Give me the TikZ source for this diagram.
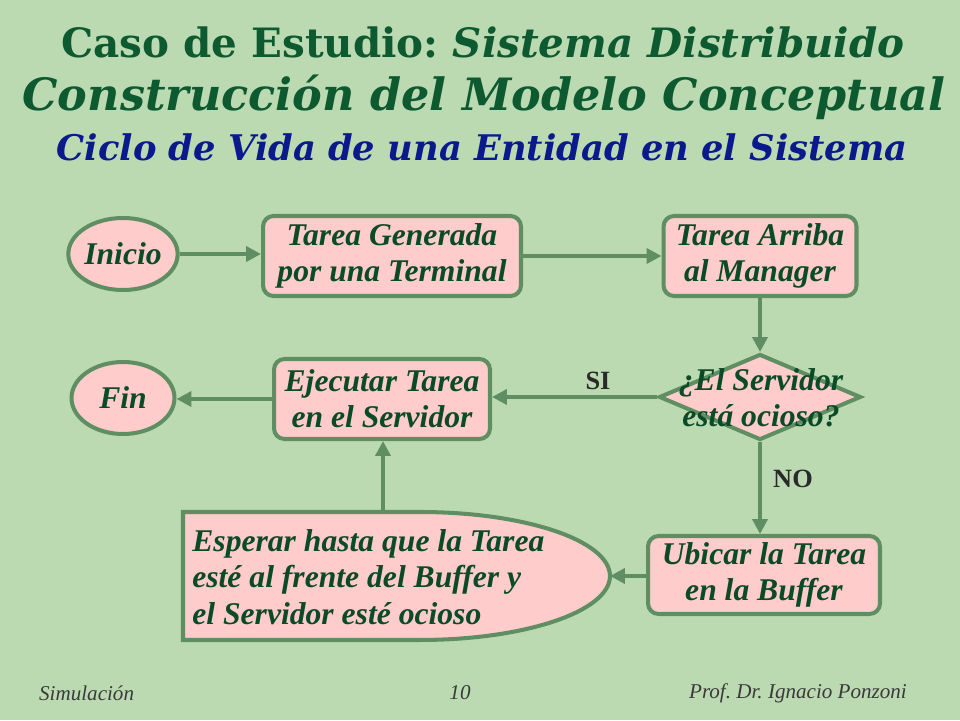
\documentclass[tikz,border=0pt]{standalone}
\usepackage{fontspec}
\setmainfont{Liberation Serif}
\newfontfamily\titlefont{DejaVu Serif}
\usetikzlibrary{shapes.geometric,arrows.meta}
\definecolor{bg}{HTML}{BCDAB2}
\definecolor{boxfill}{HTML}{FFCCCC}
\definecolor{edgec}{HTML}{5E8E62}
\definecolor{txt}{HTML}{0B4A26}
\definecolor{ttlgreen}{HTML}{0E5A30}
\definecolor{ttlblue}{HTML}{0A1A8C}
\definecolor{lbl}{HTML}{2A2A2A}
\definecolor{foot}{HTML}{3A3A3A}
\frenchspacing
\begin{document}
\begin{tikzpicture}[x=0.02cm,y=-0.02cm,
  boxtext/.style={font=\fontsize{18}{20.6}\selectfont\bfseries\itshape, text=txt},
  stepbox/.style={boxtext, draw=edgec, line width=2.3pt, fill=boxfill, rounded corners=6pt, align=center, inner sep=0pt},
  termbox/.style={boxtext, draw=edgec, line width=2.3pt, fill=boxfill, ellipse, inner sep=0pt, minimum width=2.06cm, minimum height=1.44cm},
  arr/.style={draw=edgec, line width=2.3pt, -{Triangle[length=8.5pt,width=8.5pt]}},
  lbltext/.style={font=\fontsize{15}{18}\selectfont\bfseries, text=lbl},
  foottext/.style={font=\fontsize{12}{14}\selectfont\itshape, text=foot},
  ttl/.style={font=\titlefont\bfseries, inner sep=0pt, anchor=base}
  ]
  \fill[bg] (0,0) rectangle (960,720);
  \useasboundingbox (0,0) rectangle (960,720);

  % titles
  \node[ttl, text=ttlgreen] (t1) at (483,57) {\resizebox{16.86cm}{!}{Caso de Estudio: \itshape Sistema Distribuido}};
  \node[ttl, text=ttlgreen] (t2) at (484,110) {\resizebox{18.46cm}{!}{\itshape Construcción del Modelo Conceptual}};
  \node[ttl, text=ttlblue] (t3) at (482,160) {\resizebox{17.02cm}{!}{\itshape Ciclo de Vida de una Entidad en el Sistema}};

  % nodes
  \node[termbox] (ini) at (123,254) {Inicio};
  \node[stepbox, minimum width=5.16cm, minimum height=1.6cm] (gen) at (392,256) {Tarea Generada\\por una Terminal};
  \node[stepbox, minimum width=3.86cm, minimum height=1.6cm] (arr) at (760,256) {Tarea Arriba\\al Manager};
  \node[diamond, draw=edgec, line width=2.3pt, fill=boxfill, inner sep=0pt, minimum width=4.04cm, minimum height=1.72cm] (q) at (760,397) {};
  \node[boxtext, align=center, inner sep=0pt] (qt) at (761,398) {¿El Servidor\\está ocioso?};
  \node[stepbox, minimum width=4.32cm, minimum height=1.6cm] (ej) at (382,399) {Ejecutar Tarea\\en el Servidor};
  \node[termbox] (fin) at (123,398) {Fin};
  \node[stepbox, minimum width=4.64cm, minimum height=1.56cm] (ub) at (764,575) {Ubicar la Tarea\\en la Buffer};

  % wait shape
  \draw[draw=edgec, line width=2.3pt, fill=boxfill] (183,512) -- (420,512)
     arc[start angle=90, end angle=-90, x radius=3.8cm, y radius=1.28cm] -- (183,640) -- cycle;
  \node[boxtext, align=left, anchor=west, inner sep=0pt] (esp) at (192,577) {Esperar hasta que la Tarea\\esté al frente del Buffer y\\el Servidor esté ocioso};
  \coordinate (esptip) at (610,576);
  \coordinate (esptop) at (383,512);

  % connectors
  \draw[arr] (ini.east) -- (gen.west |- ini.east);
  \draw[arr] (gen.east) -- (arr.west);
  \draw[arr] (arr.south) -- (q.north -| arr.south);
  \draw[arr] (q.west) -- (ej.east |- q.west);
  \draw[arr] (ej.west) -- (fin.east |- ej.west);
  \draw[arr] (q.south) -- (ub.north -| q.south);
  \draw[arr] (ub.west |- esptip) -- (esptip);
  \draw[arr] (esptop) -- (ej.south -| esptop);

  \node[lbltext] (si) at (598,381) {SI};
  \node[lbltext] (no) at (793,479) {NO};

  % footer
  \node[foottext, anchor=west] (f1) at (33,693) {Simulación};
  \node[foottext] (f2) at (460,693) {10};
  \node[foottext, anchor=east] (f3) at (913,693) {Prof. Dr. Ignacio Ponzoni};
\end{tikzpicture}
\end{document}
